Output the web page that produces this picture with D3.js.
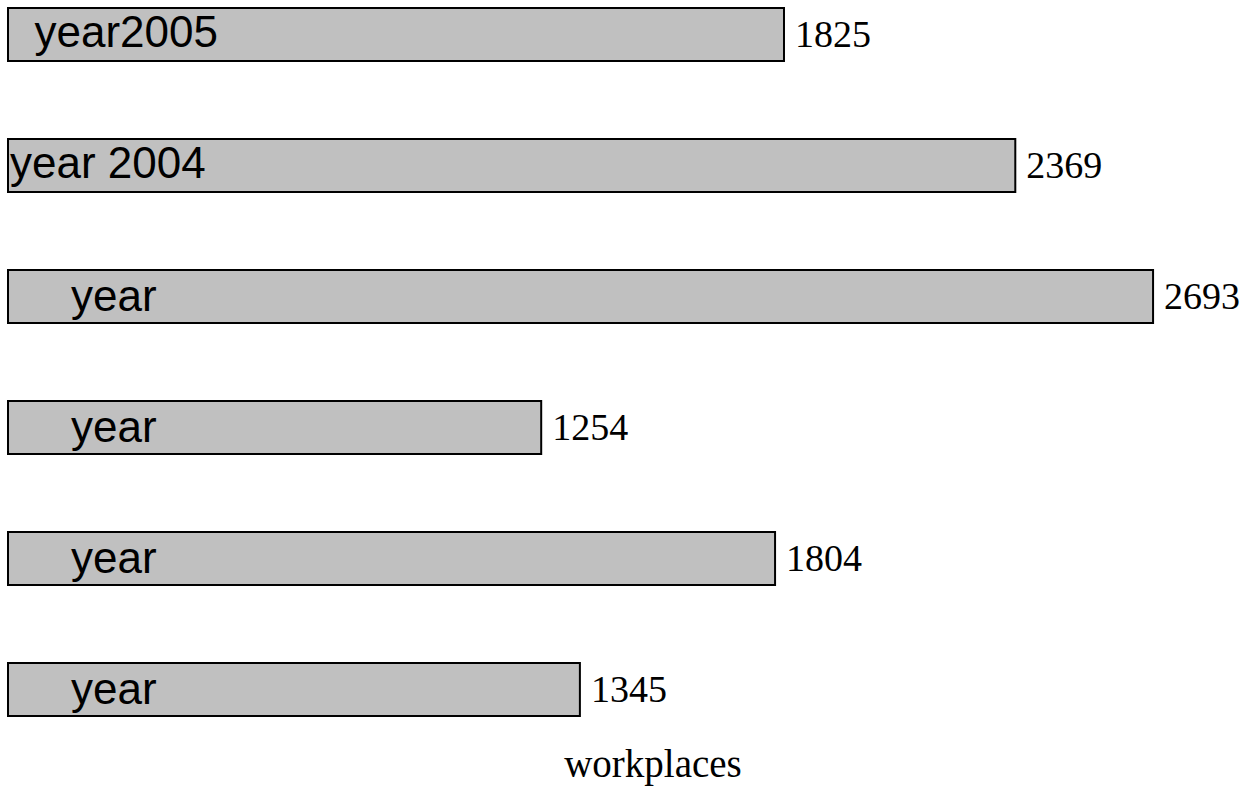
<!DOCTYPE html>
<html>
<head>
<meta charset="utf-8">
<script src="https://cdn.jsdelivr.net/npm/d3@7"></script>
<style>
  html, body { margin: 0; padding: 0; background: #fff; }
  svg { display: block; }
</style>
</head>
<body>
<svg id="chart" width="1252" height="810"></svg>
<script>
// Workplaces per year
const categories = ["  year2005", "year 2004", "     year", "     year", "     year", "     year"];
const values = [1825, 2369, 2693, 1254, 1804, 1345];
const axisTitle = "workplaces";

const svg = d3.select("#chart");

const x = d3.scaleLinear().domain([0, 2900]).range([8, 8 + 2900 * 0.4252]);
const y = d3.scaleBand()
  .domain(d3.range(categories.length))
  .range([8, 716])
  .paddingInner(78 / 131)
  .paddingOuter(0);

const rows = svg.append("g").selectAll("g.row")
  .data(values)
  .join("g")
  .attr("class", "row");

rows.append("rect")
  .attr("x", x(0))
  .attr("y", (d, i) => y(i))
  .attr("width", d => x(d) - x(0))
  .attr("height", y.bandwidth())
  .attr("fill", "#c0c0c0")
  .attr("stroke", "#000")
  .attr("stroke-width", 2);

// category label inside each bar
rows.append("text")
  .attr("xml:space", "preserve")
  .style("white-space", "pre")
  .attr("x", x(0) + 2)
  .attr("y", (d, i) => y(i) + y.bandwidth() / 2 + (i < 2 ? 12 : 14))
  .attr("font-family", "Liberation Sans, Arial, sans-serif")
  .attr("font-size", 44)
  .attr("fill", "#000")
  .text((d, i) => categories[i]);

// value at the end of each bar
rows.append("text")
  .attr("x", d => x(d) + 11)
  .attr("y", (d, i) => y(i) + y.bandwidth() / 2 + 12)
  .attr("font-family", "Liberation Serif, Times New Roman, serif")
  .attr("font-size", 38)
  .attr("fill", "#000")
  .text(d => d);

svg.append("text")
  .attr("x", 653)
  .attr("y", 777)
  .attr("text-anchor", "middle")
  .attr("font-family", "Liberation Serif, Times New Roman, serif")
  .attr("font-size", 39)
  .attr("fill", "#000")
  .text(axisTitle);
</script>
</body>
</html>
